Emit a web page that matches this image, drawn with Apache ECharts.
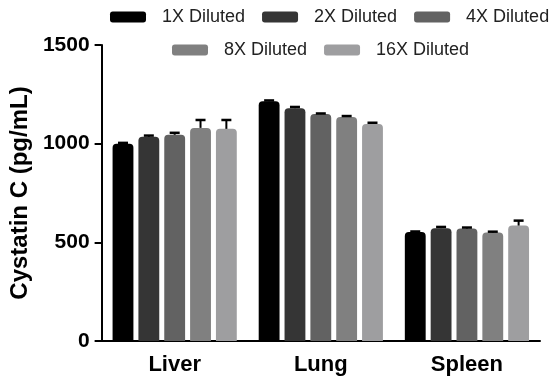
<!DOCTYPE html>
<html><head><meta charset="utf-8">
<script src="https://cdn.jsdelivr.net/npm/echarts@6/dist/echarts.min.js"></script>
<style>html,body{margin:0;padding:0;background:#fff}#c{width:560px;height:379px}</style>
</head><body><div id="c"></div>
<script>
var categories = ['Liver', 'Lung', 'Spleen'];
var seriesNames = ['1X Diluted', '2X Diluted', '4X Diluted', '8X Diluted', '16X Diluted'];
var v1X = [1000, 1215, 552];
var v2X = [1035, 1180, 572];
var v4X = [1045, 1150, 570];
var v8X = [1080, 1135, 550];
var v16X = [1075, 1100, 585];
var e1X = [4, 4, 3];
var e2X = [6, 6, 6];
var e4X = [10, 3, 5];
var e8X = [40, 5, 4];
var e16X = [45, 6, 25];
var yTicks = [0, 500, 1000, 1500];

var colors = ['#000000', '#353535', '#626262', '#808080', '#9e9ea0'];
var values = [v1X, v2X, v4X, v8X, v16X];
var errors = [e1X, e2X, e4X, e8X, e16X];
var CAT_GAP = 0.15, BAR_GAP = 0.24, N = 5;
var FONT = 'Liberation Sans, Arial, sans-serif';

var series = [];
values.forEach(function (vals, i) {
  series.push({
    name: seriesNames[i], type: 'bar', data: vals,
    barCategoryGap: '15%', barGap: '24%',
    itemStyle: { color: colors[i], borderRadius: [4, 4, 0, 0] },
    z: 2
  });
});
values.forEach(function (vals, i) {
  series.push({
    type: 'custom', name: seriesNames[i] + ' err', z: 3,
    data: vals.map(function (v, j) { return [j, v, errors[i][j]]; }),
    renderItem: function (params, api) {
      var c = api.value(0), v = api.value(1), e = api.value(2);
      var band = api.size([1, 0])[0];
      var bw = band * (1 - CAT_GAP) / (N + (N - 1) * BAR_GAP);
      var start = -band * (1 - CAT_GAP) / 2;
      var p0 = api.coord([c, v]);
      var p1 = api.coord([c, v + e]);
      var x = p0[0] + start + i * bw * (1 + BAR_GAP) + bw / 2;
      var cap = 5;
      return { type: 'group', children: [
        { type: 'line', shape: { x1: x, y1: p0[1], x2: x, y2: p1[1] }, style: { stroke: '#000', lineWidth: 2 } },
        { type: 'line', shape: { x1: x - cap, y1: p1[1], x2: x + cap, y2: p1[1] }, style: { stroke: '#000', lineWidth: 2.5 } }
      ] };
    }
  });
});

var legendCommon = {
  orient: 'horizontal', itemWidth: 36, itemHeight: 11, itemGap: 17, padding: 0,
  icon: 'roundRect',
  textStyle: { fontFamily: FONT, fontSize: 18, color: '#222', padding: [0, 0, 0, 11] }
};

var option = {
  animation: false,
  backgroundColor: '#fff',
  grid: { left: 97, right: 20, top: 45, bottom: 38, containLabel: false },
  legend: [
    Object.assign({}, legendCommon, { data: seriesNames.slice(0, 3), left: 110, top: 8 }),
    Object.assign({}, legendCommon, { data: seriesNames.slice(3), left: 172, top: 41 })
  ],
  xAxis: {
    type: 'category', data: categories,
    axisLine: { lineStyle: { color: '#000', width: 2 } },
    axisTick: { alignWithLabel: true, length: 7, lineStyle: { color: '#000', width: 2 } },
    axisLabel: { fontFamily: FONT, fontSize: 22, fontWeight: 'bold', color: '#000', margin: 13 }
  },
  yAxis: {
    type: 'value', min: yTicks[0], max: yTicks[yTicks.length - 1], interval: 500,
    name: 'Cystatin C (pg/mL)', nameLocation: 'middle', nameGap: 66,
    nameTextStyle: { fontFamily: FONT, fontSize: 24, fontWeight: 'bold', color: '#000' },
    axisLine: { show: true, lineStyle: { color: '#000', width: 2 } },
    axisTick: { show: true, length: 7, lineStyle: { color: '#000', width: 2 } },
    splitLine: { show: false },
    axisLabel: { fontFamily: FONT, fontSize: 21, fontWeight: 'bold', color: '#000', margin: 12,
      formatter: function (v) { return String(v); } }
  },
  series: series
};
var chart = echarts.init(document.getElementById('c'), null, { renderer: 'canvas' });
chart.setOption(option);
</script></body></html>
